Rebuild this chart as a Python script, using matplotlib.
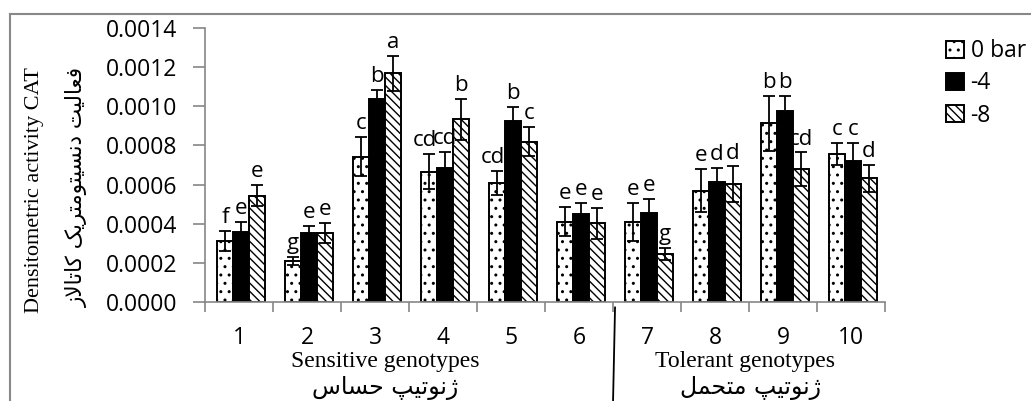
import numpy as np
import matplotlib.pyplot as plt
from matplotlib.lines import Line2D

# داده ها
genotypes = ['1', '2', '3', '4', '5', '6', '7', '8', '9', '10']
bar0 = [0.000313, 0.000211, 0.000742, 0.000666, 0.000610, 0.000410, 0.000410, 0.000569, 0.000913, 0.000756]
err0 = [0.000051, 0.000020, 0.000100, 0.000090, 0.000061, 0.000074, 0.000097, 0.000110, 0.000140, 0.000058]
bar4 = [0.000359, 0.000354, 0.001036, 0.000683, 0.000925, 0.000450, 0.000456, 0.000615, 0.000978, 0.000722]
err4 = [0.000051, 0.000034, 0.000048, 0.000085, 0.000073, 0.000058, 0.000070, 0.000070, 0.000077, 0.000092]
bar8 = [0.000543, 0.000354, 0.001168, 0.000933, 0.000819, 0.000402, 0.000245, 0.000603, 0.000678, 0.000632]
err8 = [0.000055, 0.000050, 0.000090, 0.000104, 0.000074, 0.000080, 0.000030, 0.000090, 0.000087, 0.000068]
let0 = ['f', 'g', 'c', 'cd', 'cd', 'e', 'e', 'e', 'b', 'c']
let4 = ['e', 'e', 'b', 'cd', 'b', 'e', 'e', 'd', 'b', 'c']
let8 = ['e', 'e', 'a', 'b', 'c', 'e', 'g', 'd', 'cd', 'd']
series_names = ['0 bar', '-4', '-8']

ylabel_en = 'Densitometric activity CAT'
ylabel_fa = 'فعالیت دنسیتومتریک کاتالاز'
group_en = ['Sensitive genotypes', 'Tolerant genotypes']
group_fa = ['ژنوتیپ حساس', 'ژنوتیپ متحمل']

# matplotlib متن فارسی را شکل نمیدهد، پس شکلهای نمایشی را خودمان میسازیم
forms = {
    'ا': ('\uFE8D', '\uFE8E', None, None),
    'ت': ('\uFE95', '\uFE96', '\uFE97', '\uFE98'),
    'ح': ('\uFEA1', '\uFEA2', '\uFEA3', '\uFEA4'),
    'د': ('\uFEA9', '\uFEAA', None, None),
    'ر': ('\uFEAD', '\uFEAE', None, None),
    'ز': ('\uFEAF', '\uFEB0', None, None),
    'ژ': ('\uFB8A', '\uFB8B', None, None),
    'س': ('\uFEB1', '\uFEB2', '\uFEB3', '\uFEB4'),
    'ع': ('\uFEC9', '\uFECA', '\uFECB', '\uFECC'),
    'ف': ('\uFED1', '\uFED2', '\uFED3', '\uFED4'),
    'ل': ('\uFEDD', '\uFEDE', '\uFEDF', '\uFEE0'),
    'م': ('\uFEE1', '\uFEE2', '\uFEE3', '\uFEE4'),
    'ن': ('\uFEE5', '\uFEE6', '\uFEE7', '\uFEE8'),
    'و': ('\uFEED', '\uFEEE', None, None),
    'ی': ('\uFBFC', '\uFBFD', '\uFBFE', '\uFBFF'),
    'ک': ('\uFB8E', '\uFB8F', '\uFB90', '\uFB91'),
    'پ': ('\uFB56', '\uFB57', '\uFB58', '\uFB59'),
    'لا': ('\uFEFB', '\uFEFC', None, None),
}


def shape_fa(s):
    out = []
    for word in s.split(' '):
        toks = []
        i = 0
        while i < len(word):
            if word[i:i + 2] == 'لا':
                toks.append('لا')
                i += 2
            else:
                toks.append(word[i])
                i += 1
        w = ''
        for k, t in enumerate(toks):
            jp = k > 0 and forms[toks[k - 1]][2] is not None
            jn = k < len(toks) - 1 and forms[t][2] is not None
            if jp and jn:
                w += forms[t][3]
            elif jp:
                w += forms[t][1]
            elif jn:
                w += forms[t][2]
            else:
                w += forms[t][0]
        out.append(w)
    return ' '.join(out)[::-1]


plt.rcParams['font.family'] = ['Open Sans', 'DejaVu Sans']
plt.rcParams['hatch.linewidth'] = 1.0

fig = plt.figure(figsize=(10.31, 4.01), dpi=100)
ax = fig.add_axes([205 / 1031, 1 - 302 / 401, 680 / 1031, 274 / 401])

x = np.arange(1, len(genotypes) + 1)
w = 0.235
specs = [(bar0, err0, let0, 'white', '..'),
         (bar4, err4, let4, 'black', None),
         (bar8, err8, let8, 'white', '\\\\\\\\')]
for k, (vals, errs, lets, fc, hat) in enumerate(specs):
    xs = x + (k - 1) * w + 0.03
    ax.bar(xs, vals, width=w, color=fc, edgecolor='black', linewidth=1.4,
           hatch=hat, label=series_names[k], zorder=2)
    ax.errorbar(xs, vals, yerr=errs, fmt='none', ecolor='black',
                elinewidth=1.3, capsize=4, capthick=1.3, zorder=3)
    for xi, v, e, l in zip(xs, vals, errs, lets):
        # حروف دوتایی روی ستون اول کمی به چپ رانده شده اند
        if k == 0 and len(l) > 1:
            ax.annotate(l, (xi + w / 2, v + e), xytext=(0, 2), textcoords='offset points',
                        ha='right', va='bottom', fontsize=16)
        else:
            ax.annotate(l, (xi, v + e), xytext=(0, 2), textcoords='offset points',
                        ha='center', va='bottom', fontsize=16)

ax.set_xlim(0.5, 10.5)
ax.set_ylim(0, 0.0014)
ax.set_yticks(np.arange(0, 0.00141, 0.0002))
ax.set_yticklabels(['%.4f' % t for t in np.arange(0, 0.00141, 0.0002)], fontsize=16.5)
ax.set_xticks(x)
ax.set_xticklabels(genotypes, fontsize=16.5)
ax.set_xticks(np.arange(0.5, 10.6, 1), minor=True)
ax.tick_params(axis='x', which='major', length=0, pad=17)
ax.tick_params(axis='x', which='minor', length=7, width=1.2, color='#868686')
ax.tick_params(axis='y', length=9, width=1.2, color='#868686', pad=11)
for s in ['top', 'right']:
    ax.spines[s].set_visible(False)
for s in ['left', 'bottom']:
    ax.spines[s].set_color('#868686')
    ax.spines[s].set_linewidth(1.2)

# خط جدا کننده گروه ها
ax.add_line(Line2D([6.53, 6.5], [-0.02, -0.37], color='black', linewidth=1.3,
                   transform=ax.get_xaxis_transform(), clip_on=False))

leg = fig.legend(loc='upper left', bbox_to_anchor=(935 / 1031, 1 - 28 / 401),
                 frameon=False, fontsize=16.5, handlelength=0.75, handleheight=0.75,
                 handletextpad=0.3, labelspacing=0.35, borderpad=0)

fig.text(35 / 1031, 1 - 190 / 401, ylabel_en, rotation=90, ha='center', va='center',
         fontsize=16, family='Liberation Serif')
fig.text(77 / 1031, 1 - 187 / 401, shape_fa(ylabel_fa), rotation=90, ha='center',
         va='center', fontsize=15.5, family='DejaVu Sans')
fig.text(385 / 1031, 1 - 361 / 401, group_en[0], ha='center', va='center',
         fontsize=17, family='Liberation Serif')
fig.text(745 / 1031, 1 - 361 / 401, group_en[1], ha='center', va='center',
         fontsize=17, family='Liberation Serif')
fig.text(385 / 1031, 1 - 388 / 401, shape_fa(group_fa[0]), ha='center', va='center',
         fontsize=17, family='DejaVu Sans')
fig.text(750 / 1031, 1 - 388 / 401, shape_fa(group_fa[1]), ha='center', va='center',
         fontsize=17, family='DejaVu Sans')

# قاب خاکستری بیرونی
fig.add_artist(Line2D([10 / 1031, 1], [1 - 14 / 401, 1 - 14 / 401], color='#888888',
                      linewidth=1.5, transform=fig.transFigure))
fig.add_artist(Line2D([10 / 1031, 10 / 1031], [0, 1 - 14 / 401], color='#888888',
                      linewidth=1.5, transform=fig.transFigure))

fig.savefig('out.png', dpi=100)
